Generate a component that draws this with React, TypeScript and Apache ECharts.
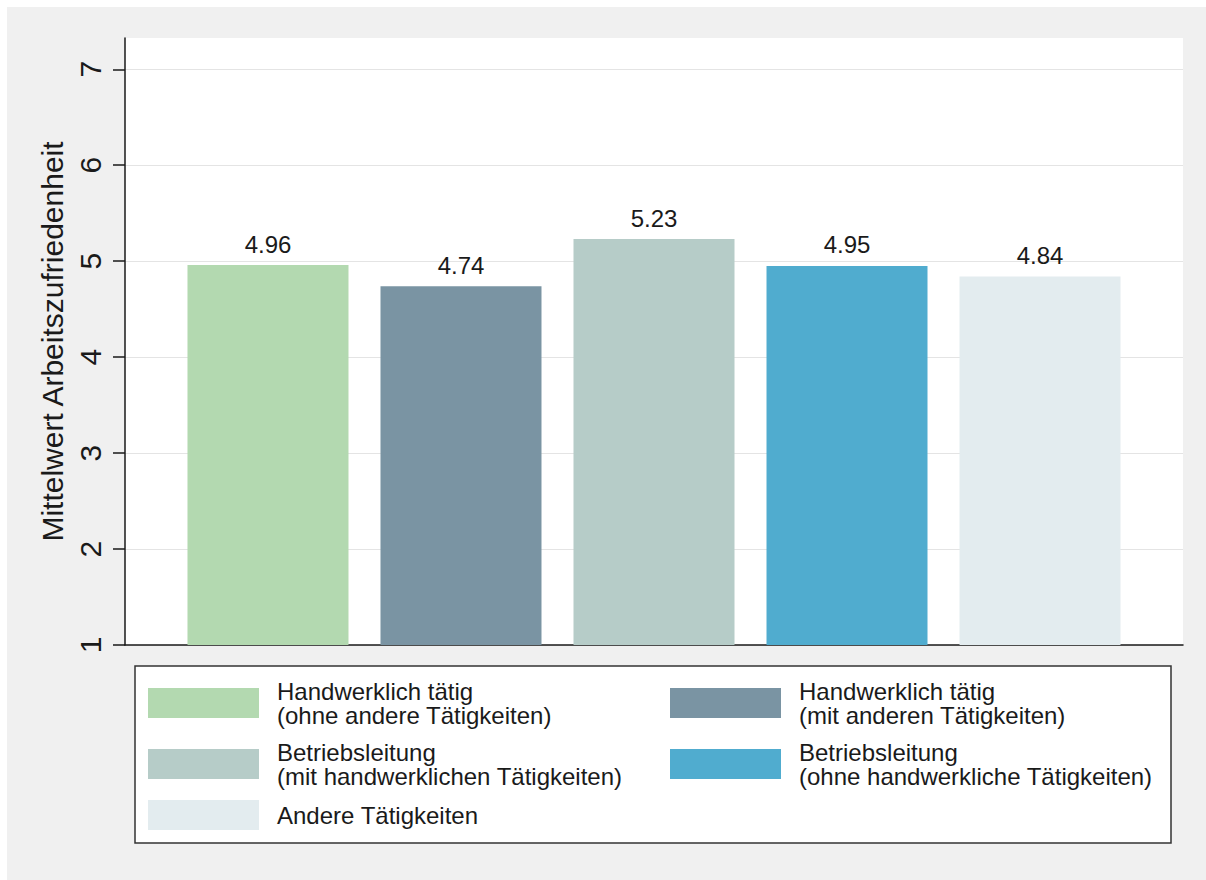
import React, { useEffect, useRef } from "react";
import * as echarts from "echarts";

const categories = [
  "Handwerklich tätig\n(ohne andere Tätigkeiten)",
  "Handwerklich tätig\n(mit anderen Tätigkeiten)",
  "Betriebsleitung\n(mit handwerklichen Tätigkeiten)",
  "Betriebsleitung\n(ohne handwerkliche Tätigkeiten)",
  "Andere Tätigkeiten",
];
const values = [4.96, 4.74, 5.23, 4.95, 4.84];
const colors = ["#b3d9b0", "#7a94a3", "#b6ccc8", "#50accf", "#e3ecef"];
const yTicks = [1, 2, 3, 4, 5, 6, 7];
const yAxisTitle = "Mittelwert Arbeitszufriedenheit";

const FONT = "'Liberation Sans', Arial, sans-serif";

// legend placement: [left, top]
const legendPos: [number, number][] = [
  [141, 672],
  [663, 672],
  [141, 733],
  [663, 733],
  [141, 793],
];

export default function App() {
  const ref = useRef<HTMLDivElement>(null);
  useEffect(() => {
    if (!ref.current) return;
    const chart = echarts.init(ref.current, null, { renderer: "svg" });
    const option: any = {
      animation: false,
      backgroundColor: "#f0f0f0",
      textStyle: { fontFamily: FONT },
      grid: {
        left: 118,
        top: 31,
        width: 1058,
        height: 607,
        show: true,
        backgroundColor: "#ffffff",
        borderWidth: 0,
        containLabel: false,
      },
      graphic: [
        {
          type: "rect",
          shape: { x: 128, y: 659, width: 1036, height: 177 },
          style: { fill: "#ffffff", stroke: "#333333", lineWidth: 1.5 },
          z: 0,
        },
      ],
      xAxis: {
        type: "category",
        data: [""],
        axisLine: { show: true, lineStyle: { color: "#1a1a1a", width: 1.5 } },
        axisTick: { show: false },
        axisLabel: { show: false },
        splitLine: { show: false },
      },
      yAxis: {
        type: "value",
        min: 1,
        max: 7.326,
        name: yAxisTitle,
        nameLocation: "middle",
        nameGap: 47,
        nameTextStyle: { fontSize: 30, color: "#1a1a1a", fontFamily: FONT },
        axisLine: { show: true, lineStyle: { color: "#1a1a1a", width: 1.5 } },
        axisTick: {
          show: true,
          length: 12,
          lineStyle: { color: "#1a1a1a", width: 1.5 },
          customValues: yTicks,
        },
        axisLabel: {
          show: true,
          rotate: 90,
          margin: 20,
          fontSize: 30,
          color: "#1a1a1a",
          fontFamily: FONT,
          customValues: yTicks,
        },
        splitLine: { show: true, lineStyle: { color: "#e4e4e4", width: 1.2 } },
      },
      legend: categories.map((c, i) => ({
        data: [c],
        left: legendPos[i][0],
        top: legendPos[i][1],
        orient: "horizontal",
        padding: 0,
        itemWidth: 111,
        itemHeight: 30,
        itemGap: 0,
        itemTextGap: 18,
        icon: "rect",
        selectedMode: false,
        textStyle: {
          fontSize: 24,
          lineHeight: 24,
          color: "#1a1a1a",
          fontFamily: FONT,
          padding: [0, 0, 0, 13],
        },
      })),
      series: categories.map((c, i) => ({
        type: "bar",
        name: c,
        data: [values[i]],
        barWidth: 161,
        barGap: "19.88%",
        itemStyle: { color: colors[i] },
        label: {
          show: true,
          position: "top",
          distance: 9,
          fontSize: 24,
          color: "#1a1a1a",
          fontFamily: FONT,
          formatter: (p: any) => Number(p.value).toFixed(2),
        },
      })),
    };
    chart.setOption(option);
    return () => chart.dispose();
  }, []);
  return (
    <div style={{ position: "fixed", left: 0, top: 0, width: 1206, height: 880, background: "#ffffff" }}>
      <div ref={ref} style={{ position: "absolute", left: 7, top: 7, width: 1199, height: 873 }} />
    </div>
  );
}
